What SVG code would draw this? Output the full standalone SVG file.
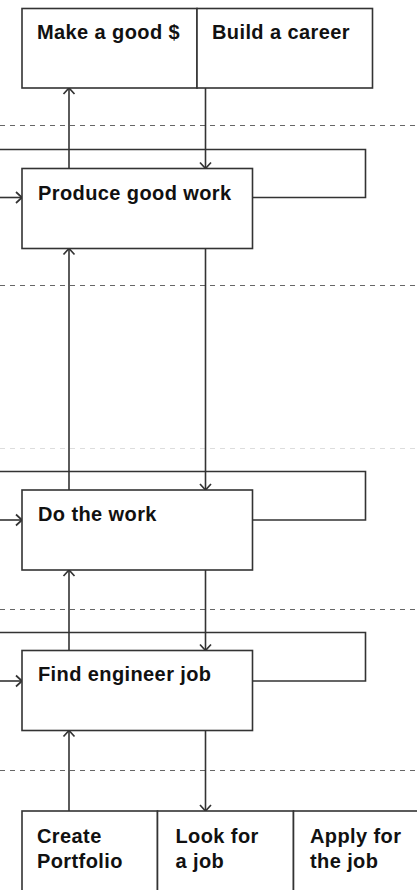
<svg xmlns="http://www.w3.org/2000/svg" width="417" height="890" viewBox="0 0 417 890">
<style>
.box{fill:#fff;stroke:#333;stroke-width:1.6}
.t{font-family:"Liberation Sans",Arial,sans-serif;font-weight:bold;font-size:20px;letter-spacing:0.4px;fill:#111}
.c{fill:none;stroke:#333;stroke-width:1.6}
.d{stroke:#666;stroke-width:1;stroke-dasharray:5 5}
.dl{stroke:#ddd;stroke-width:1;stroke-dasharray:5 5}
</style>
<defs>
<marker id="ah" viewBox="0 0 12 14" refX="11" refY="7" markerWidth="12" markerHeight="14" markerUnits="userSpaceOnUse" orient="auto">
<path d="M5,1.5 L11,7 L5,12.5" fill="none" stroke="#333" stroke-width="1.7"/>
</marker>
</defs>
<g id="lanes">
<line class="d" x1="0" y1="125.5" x2="417" y2="125.5"/>
<line class="d" x1="0" y1="285.5" x2="417" y2="285.5"/>
<line class="dl" x1="0" y1="448.5" x2="417" y2="448.5"/>
<line class="d" x1="0" y1="609.5" x2="417" y2="609.5"/>
<line class="d" x1="0" y1="770.5" x2="417" y2="770.5"/>
</g>
<g id="connectors">
<path class="c" d="M0,149.5 H365.5 V197.5 H253"/>
<path class="c" d="M0,197.5 H22" marker-end="url(#ah)"/>
<path class="c" d="M0,471.5 H365.5 V520 H253"/>
<path class="c" d="M0,520 H22" marker-end="url(#ah)"/>
<path class="c" d="M0,632.5 H365.5 V681 H253"/>
<path class="c" d="M0,681 H22" marker-end="url(#ah)"/>
<path class="c" d="M69,168.5 V88" marker-end="url(#ah)"/>
<path class="c" d="M69,490 V248.5" marker-end="url(#ah)"/>
<path class="c" d="M69,650.5 V570" marker-end="url(#ah)"/>
<path class="c" d="M69,811 V730.5" marker-end="url(#ah)"/>
<path class="c" d="M205.5,88 V168.5" marker-end="url(#ah)"/>
<path class="c" d="M205.5,248.5 V490" marker-end="url(#ah)"/>
<path class="c" d="M205.5,570 V650.5" marker-end="url(#ah)"/>
<path class="c" d="M205.5,730.5 V811" marker-end="url(#ah)"/>
</g>
<g id="make-money">
<rect class="box" x="22" y="8.5" width="175" height="79.5"/>
<text class="t" x="37" y="39">Make a good $</text>
</g>
<g id="build-career">
<rect class="box" x="197" y="8.5" width="175.5" height="79.5"/>
<text class="t" x="212" y="39">Build a career</text>
</g>
<g id="produce">
<rect class="box" x="22" y="168.5" width="230.5" height="80"/>
<text class="t" x="38" y="199.5">Produce good work</text>
</g>
<g id="do-work">
<rect class="box" x="22" y="490" width="230.5" height="80"/>
<text class="t" x="38" y="521">Do the work</text>
</g>
<g id="find-job">
<rect class="box" x="22" y="650.5" width="230.5" height="80"/>
<text class="t" x="38" y="681">Find engineer job</text>
</g>
<g id="create-portfolio">
<rect class="box" x="22" y="811" width="135.5" height="90"/>
<text class="t" x="37" y="843">Create</text>
<text class="t" x="37" y="868">Portfolio</text>
</g>
<g id="look-job">
<rect class="box" x="157.5" y="811" width="136" height="90"/>
<text class="t" x="175.5" y="843">Look for</text>
<text class="t" x="175.5" y="868">a job</text>
</g>
<g id="apply-job">
<rect class="box" x="293.5" y="811" width="140" height="90"/>
<text class="t" x="310" y="843">Apply for</text>
<text class="t" x="310" y="868">the job</text>
</g>
</svg>
